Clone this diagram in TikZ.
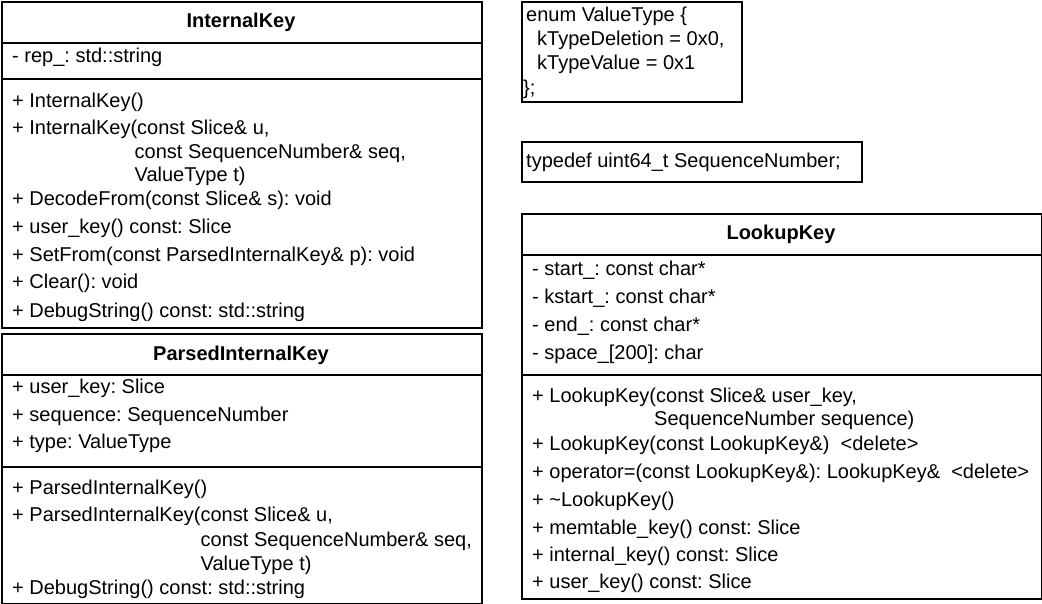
\documentclass[tikz,border=0pt]{standalone}
\usepackage{fontspec}
\setmainfont{Liberation Sans}
\frenchspacing
\begin{document}
\begin{tikzpicture}[x=1pt,y=-1pt,
  classbox/.style={draw, line width=2pt, inner sep=0pt, anchor=north west},
  member/.style={anchor=base west, inner sep=0pt, font=\fontsize{20}{24}\selectfont},
  classname/.style={anchor=base, inner sep=0pt, font=\fontsize{20}{24}\selectfont\bfseries},
  divider/.style={line width=2pt}]
\useasboundingbox (0,0) rectangle (1042,604);

% ---------- InternalKey ----------
\node[classbox, minimum width=480pt, minimum height=326pt] (ik) at (1,1) {};
\node[classname] (ik-name) at (241,27.5) {InternalKey};
\coordinate (ik-d1) at (1,43);
\coordinate (ik-d2) at (1,79);
\draw[divider] (ik-d1) -- (ik-d1 -| ik.east);
\draw[divider] (ik-d2) -- (ik-d2 -| ik.east);
\node[member] (ik-a1) at (12,62.7) {- rep\_: std::string};
\node[member] (ik-m1) at (12,107.3) {+ InternalKey()};
\node[member] (ik-m2) at (12,135) {+ InternalKey(const Slice\& u,};
\node[member] (ik-m2b) at (134.5,158.5) {const SequenceNumber\& seq,};
\node[member] (ik-m2c) at (134.5,182) {ValueType t)};
\node[member] (ik-m3) at (12,206) {+ DecodeFrom(const Slice\& s): void};
\node[member] (ik-m4) at (12,233.5) {+ user\_key() const: Slice};
\node[member] (ik-m5) at (12,261.5) {+ SetFrom(const ParsedInternalKey\& p): void};
\node[member] (ik-m6) at (12,289) {+ Clear(): void};
\node[member] (ik-m7) at (12,317) {+ DebugString() const: std::string};

% ---------- ParsedInternalKey ----------
\node[classbox, minimum width=480pt, minimum height=270pt] (pk) at (1,333) {};
\node[classname] (pk-name) at (241,360.5) {ParsedInternalKey};
\coordinate (pk-d1) at (1,375);
\coordinate (pk-d2) at (1,467);
\draw[divider] (pk-d1) -- (pk-d1 -| pk.east);
\draw[divider] (pk-d2) -- (pk-d2 -| pk.east);
\node[member] (pk-a1) at (12,393.3) {+ user\_key: Slice};
\node[member] (pk-a2) at (12,421) {+ sequence: SequenceNumber};
\node[member] (pk-a3) at (12,448.3) {+ type: ValueType};
\node[member] (pk-m1) at (12,494.3) {+ ParsedInternalKey()};
\node[member] (pk-m2) at (12,521.7) {+ ParsedInternalKey(const Slice\& u,};
\node[member] (pk-m2b) at (200.5,546) {const SequenceNumber\& seq,};
\node[member] (pk-m2c) at (200.5,570) {ValueType t)};
\node[member] (pk-m3) at (12,594.3) {+ DebugString() const: std::string};

% ---------- enum ValueType ----------
\node[classbox, minimum width=220pt, minimum height=100pt] (en) at (521,1) {};
\node[member] (en-l1) at (526,21.7) {enum ValueType \{};
\node[member] (en-l2) at (537,45.7) {kTypeDeletion = 0x0,};
\node[member] (en-l3) at (537,70) {kTypeValue = 0x1};
\node[member] (en-l4) at (523,94.3) {\};};

% ---------- typedef ----------
\node[classbox, minimum width=340pt, minimum height=40pt] (td) at (521,141) {};
\node[member] (td-l1) at (526,167.3) {typedef uint64\_t SequenceNumber;};

% ---------- LookupKey ----------
\node[classbox, minimum width=520pt, minimum height=385pt] (lk) at (521,213) {};
\node[classname] (lk-name) at (781,240) {LookupKey};
\coordinate (lk-d1) at (521,255);
\coordinate (lk-d2) at (521,375);
\draw[divider] (lk-d1) -- (lk-d1 -| lk.east);
\draw[divider] (lk-d2) -- (lk-d2 -| lk.east);
\node[member] (lk-a1) at (532,275.7) {- start\_: const char*};
\node[member] (lk-a2) at (532,304) {- kstart\_: const char*};
\node[member] (lk-a3) at (532,331.7) {- end\_: const char*};
\node[member] (lk-a4) at (532,359) {- space\_[200]: char};
\node[member] (lk-m1) at (532,402.4) {+ LookupKey(const Slice\& user\_key,};
\node[member] (lk-m1b) at (654,425.8) {SequenceNumber sequence)};
\node[member] (lk-m2) at (532,450.7) {+ LookupKey(const LookupKey\&)\ \ <delete>};
\node[member] (lk-m3) at (532,478.6) {+ operator=(const LookupKey\&): LookupKey\&\ \ <delete>};
\node[member] (lk-m4) at (532,506.4) {+ \textasciitilde LookupKey()};
\node[member] (lk-m5) at (532,534.3) {+ memtable\_key() const: Slice};
\node[member] (lk-m6) at (532,561.3) {+ internal\_key() const: Slice};
\node[member] (lk-m7) at (532,588) {+ user\_key() const: Slice};
\end{tikzpicture}
\end{document}
